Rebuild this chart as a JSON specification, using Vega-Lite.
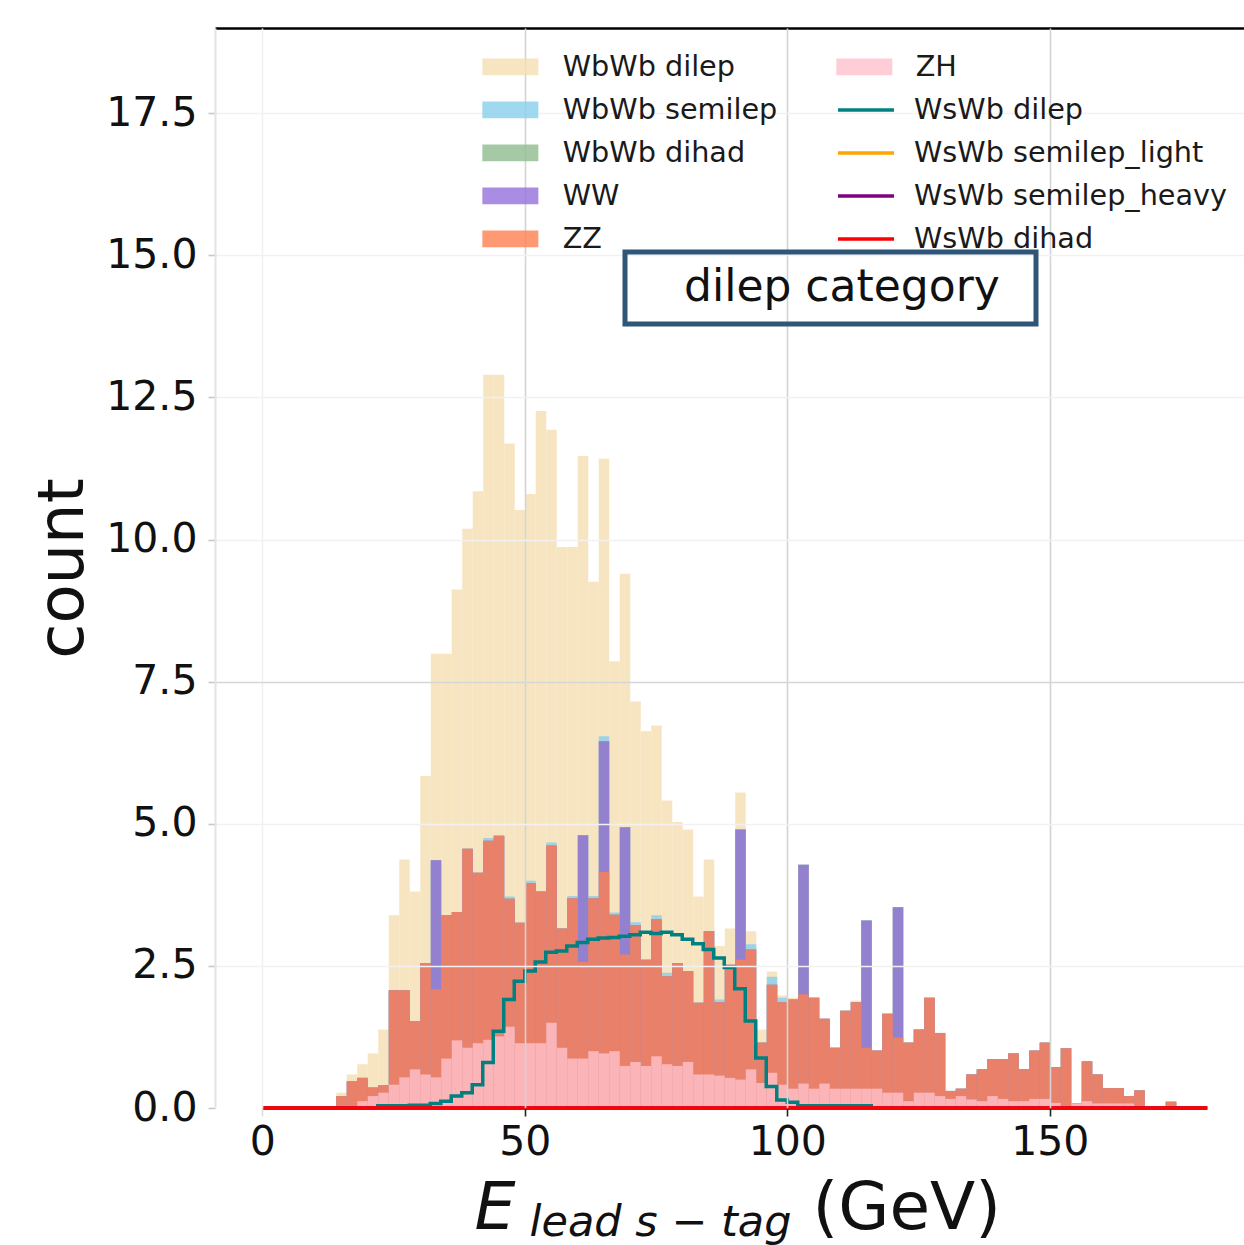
{
  "$schema": "https://vega.github.io/schema/vega-lite/v6.json",
  "width": 1029,
  "height": 1080,
  "autosize": {"type": "none"},
  "padding": {"left": 215, "top": 28, "right": 0, "bottom": 137},
  "background": "white",
  "config": {
    "view": {"stroke": null},
    "font": "DejaVu Sans",
    "axis": {"labelFont": "DejaVu Sans", "titleFont": "DejaVu Sans"},
    "legend": {"strokeWidth": 5, "labelFont": "DejaVu Sans", "titleFont": "DejaVu Sans"}
  },
  "datasets": {
    "hist": [
      {"x":0,"ZH":0,"ZZ":0,"WW":0,"WbWb dihad":0,"WbWb semilep":0,"WbWb dilep":0},
      {"x":2,"ZH":0,"ZZ":0,"WW":0,"WbWb dihad":0,"WbWb semilep":0,"WbWb dilep":0},
      {"x":4,"ZH":0,"ZZ":0,"WW":0,"WbWb dihad":0,"WbWb semilep":0,"WbWb dilep":0},
      {"x":6,"ZH":0,"ZZ":0,"WW":0,"WbWb dihad":0,"WbWb semilep":0,"WbWb dilep":0},
      {"x":8,"ZH":0,"ZZ":0,"WW":0,"WbWb dihad":0,"WbWb semilep":0,"WbWb dilep":0},
      {"x":10,"ZH":0,"ZZ":0,"WW":0,"WbWb dihad":0,"WbWb semilep":0,"WbWb dilep":0},
      {"x":12,"ZH":0,"ZZ":0,"WW":0,"WbWb dihad":0,"WbWb semilep":0,"WbWb dilep":0},
      {"x":14,"ZH":0,"ZZ":0.21,"WW":0,"WbWb dihad":0,"WbWb semilep":0,"WbWb dilep":0.06},
      {"x":16,"ZH":0,"ZZ":0.47,"WW":0,"WbWb dihad":0,"WbWb semilep":0,"WbWb dilep":0.12},
      {"x":18,"ZH":0.12,"ZZ":0.41,"WW":0,"WbWb dihad":0,"WbWb semilep":0,"WbWb dilep":0.24},
      {"x":20,"ZH":0.21,"ZZ":0.15,"WW":0,"WbWb dihad":0,"WbWb semilep":0,"WbWb dilep":0.6},
      {"x":22,"ZH":0.27,"ZZ":0.13,"WW":0,"WbWb dihad":0,"WbWb semilep":0,"WbWb dilep":0.98},
      {"x":24,"ZH":0.41,"ZZ":1.66,"WW":0,"WbWb dihad":0,"WbWb semilep":0,"WbWb dilep":1.32},
      {"x":26,"ZH":0.54,"ZZ":1.53,"WW":0,"WbWb dihad":0,"WbWb semilep":0,"WbWb dilep":2.3},
      {"x":28,"ZH":0.68,"ZZ":0.85,"WW":0,"WbWb dihad":0,"WbWb semilep":0,"WbWb dilep":2.28},
      {"x":30,"ZH":0.59,"ZZ":1.96,"WW":0,"WbWb dihad":0,"WbWb semilep":0,"WbWb dilep":3.29},
      {"x":32,"ZH":0.54,"ZZ":1.55,"WW":2.27,"WbWb dihad":0,"WbWb semilep":0,"WbWb dilep":3.63},
      {"x":34,"ZH":0.87,"ZZ":2.52,"WW":0,"WbWb dihad":0,"WbWb semilep":0,"WbWb dilep":4.6},
      {"x":36,"ZH":1.19,"ZZ":2.26,"WW":0,"WbWb dihad":0,"WbWb semilep":0,"WbWb dilep":5.67},
      {"x":38,"ZH":1.06,"ZZ":3.5,"WW":0,"WbWb dihad":0,"WbWb semilep":0,"WbWb dilep":5.63},
      {"x":40,"ZH":1.14,"ZZ":3.0,"WW":0,"WbWb dihad":0,"WbWb semilep":0,"WbWb dilep":6.71},
      {"x":42,"ZH":1.2,"ZZ":3.5,"WW":0,"WbWb dihad":0,"WbWb semilep":0.05,"WbWb dilep":8.15},
      {"x":44,"ZH":1.26,"ZZ":3.53,"WW":0,"WbWb dihad":0,"WbWb semilep":0,"WbWb dilep":8.11},
      {"x":46,"ZH":1.43,"ZZ":2.25,"WW":0,"WbWb dihad":0,"WbWb semilep":0.04,"WbWb dilep":7.97},
      {"x":48,"ZH":1.14,"ZZ":2.12,"WW":0,"WbWb dihad":0,"WbWb semilep":0,"WbWb dilep":7.26},
      {"x":50,"ZH":1.14,"ZZ":2.82,"WW":0,"WbWb dihad":0,"WbWb semilep":0.04,"WbWb dilep":6.8},
      {"x":52,"ZH":1.14,"ZZ":2.67,"WW":0,"WbWb dihad":0,"WbWb semilep":0,"WbWb dilep":8.45},
      {"x":54,"ZH":1.5,"ZZ":3.12,"WW":0,"WbWb dihad":0,"WbWb semilep":0.05,"WbWb dilep":7.26},
      {"x":56,"ZH":1.06,"ZZ":2.1,"WW":0,"WbWb dihad":0,"WbWb semilep":0,"WbWb dilep":6.71},
      {"x":58,"ZH":0.87,"ZZ":2.82,"WW":0,"WbWb dihad":0,"WbWb semilep":0.04,"WbWb dilep":6.14},
      {"x":60,"ZH":0.87,"ZZ":1.7,"WW":2.23,"WbWb dihad":0,"WbWb semilep":0,"WbWb dilep":6.67},
      {"x":62,"ZH":1.0,"ZZ":2.69,"WW":0,"WbWb dihad":0,"WbWb semilep":0.04,"WbWb dilep":5.53},
      {"x":64,"ZH":0.96,"ZZ":3.19,"WW":2.3,"WbWb dihad":0,"WbWb semilep":0.09,"WbWb dilep":4.88},
      {"x":66,"ZH":1.0,"ZZ":2.4,"WW":0,"WbWb dihad":0,"WbWb semilep":0.04,"WbWb dilep":4.42},
      {"x":68,"ZH":0.74,"ZZ":1.96,"WW":2.24,"WbWb dihad":0,"WbWb semilep":0,"WbWb dilep":4.46},
      {"x":70,"ZH":0.81,"ZZ":2.41,"WW":0,"WbWb dihad":0,"WbWb semilep":0.05,"WbWb dilep":3.88},
      {"x":72,"ZH":0.74,"ZZ":1.87,"WW":0,"WbWb dihad":0,"WbWb semilep":0,"WbWb dilep":4.02},
      {"x":74,"ZH":0.91,"ZZ":2.41,"WW":0,"WbWb dihad":0,"WbWb semilep":0.07,"WbWb dilep":3.34},
      {"x":76,"ZH":0.77,"ZZ":1.55,"WW":0,"WbWb dihad":0,"WbWb semilep":0.06,"WbWb dilep":3.03},
      {"x":78,"ZH":0.74,"ZZ":1.81,"WW":0,"WbWb dihad":0,"WbWb semilep":0,"WbWb dilep":2.48},
      {"x":80,"ZH":0.81,"ZZ":1.6,"WW":0,"WbWb dihad":0,"WbWb semilep":0,"WbWb dilep":2.49},
      {"x":82,"ZH":0.59,"ZZ":1.26,"WW":0,"WbWb dihad":0,"WbWb semilep":0,"WbWb dilep":1.87},
      {"x":84,"ZH":0.59,"ZZ":2.52,"WW":0,"WbWb dihad":0,"WbWb semilep":0,"WbWb dilep":1.26},
      {"x":86,"ZH":0.57,"ZZ":1.29,"WW":0,"WbWb dihad":0,"WbWb semilep":0.05,"WbWb dilep":0.94},
      {"x":88,"ZH":0.53,"ZZ":1.99,"WW":0,"WbWb dihad":0,"WbWb semilep":0,"WbWb dilep":0.64},
      {"x":90,"ZH":0.5,"ZZ":2.11,"WW":2.29,"WbWb dihad":0,"WbWb semilep":0,"WbWb dilep":0.65},
      {"x":92,"ZH":0.68,"ZZ":2.11,"WW":0,"WbWb dihad":0,"WbWb semilep":0.09,"WbWb dilep":0.23},
      {"x":94,"ZH":0.44,"ZZ":0.71,"WW":0,"WbWb dihad":0,"WbWb semilep":0,"WbWb dilep":0.23},
      {"x":96,"ZH":0.62,"ZZ":1.55,"WW":0,"WbWb dihad":0,"WbWb semilep":0.14,"WbWb dilep":0.09},
      {"x":98,"ZH":0.41,"ZZ":1.45,"WW":0,"WbWb dihad":0,"WbWb semilep":0.08,"WbWb dilep":0.04},
      {"x":100,"ZH":0.34,"ZZ":1.57,"WW":0,"WbWb dihad":0,"WbWb semilep":0,"WbWb dilep":0.03},
      {"x":102,"ZH":0.43,"ZZ":1.57,"WW":2.28,"WbWb dihad":0,"WbWb semilep":0,"WbWb dilep":0},
      {"x":104,"ZH":0.34,"ZZ":1.6,"WW":0,"WbWb dihad":0,"WbWb semilep":0,"WbWb dilep":0},
      {"x":106,"ZH":0.43,"ZZ":1.14,"WW":0,"WbWb dihad":0,"WbWb semilep":0,"WbWb dilep":0},
      {"x":108,"ZH":0.34,"ZZ":0.72,"WW":0,"WbWb dihad":0,"WbWb semilep":0,"WbWb dilep":0},
      {"x":110,"ZH":0.34,"ZZ":1.37,"WW":0,"WbWb dihad":0,"WbWb semilep":0,"WbWb dilep":0},
      {"x":112,"ZH":0.34,"ZZ":1.52,"WW":0,"WbWb dihad":0,"WbWb semilep":0,"WbWb dilep":0.03},
      {"x":114,"ZH":0.34,"ZZ":0.72,"WW":2.24,"WbWb dihad":0,"WbWb semilep":0,"WbWb dilep":0},
      {"x":116,"ZH":0.34,"ZZ":0.67,"WW":0,"WbWb dihad":0,"WbWb semilep":0,"WbWb dilep":0},
      {"x":118,"ZH":0.27,"ZZ":1.39,"WW":0,"WbWb dihad":0,"WbWb semilep":0,"WbWb dilep":0},
      {"x":120,"ZH":0.27,"ZZ":0.97,"WW":2.29,"WbWb dihad":0,"WbWb semilep":0,"WbWb dilep":0},
      {"x":122,"ZH":0.12,"ZZ":1.03,"WW":0,"WbWb dihad":0,"WbWb semilep":0,"WbWb dilep":0},
      {"x":124,"ZH":0.27,"ZZ":1.11,"WW":0,"WbWb dihad":0,"WbWb semilep":0,"WbWb dilep":0},
      {"x":126,"ZH":0.27,"ZZ":1.67,"WW":0,"WbWb dihad":0,"WbWb semilep":0,"WbWb dilep":0},
      {"x":128,"ZH":0.21,"ZZ":1.11,"WW":0,"WbWb dihad":0,"WbWb semilep":0,"WbWb dilep":0},
      {"x":130,"ZH":0.16,"ZZ":0.14,"WW":0,"WbWb dihad":0,"WbWb semilep":0,"WbWb dilep":0},
      {"x":132,"ZH":0.21,"ZZ":0.13,"WW":0,"WbWb dihad":0,"WbWb semilep":0,"WbWb dilep":0},
      {"x":134,"ZH":0.15,"ZZ":0.44,"WW":0,"WbWb dihad":0,"WbWb semilep":0,"WbWb dilep":0},
      {"x":136,"ZH":0.12,"ZZ":0.56,"WW":0,"WbWb dihad":0,"WbWb semilep":0,"WbWb dilep":0},
      {"x":138,"ZH":0.21,"ZZ":0.65,"WW":0,"WbWb dihad":0,"WbWb semilep":0,"WbWb dilep":0},
      {"x":140,"ZH":0.16,"ZZ":0.7,"WW":0,"WbWb dihad":0,"WbWb semilep":0,"WbWb dilep":0},
      {"x":142,"ZH":0.12,"ZZ":0.84,"WW":0,"WbWb dihad":0,"WbWb semilep":0,"WbWb dilep":0},
      {"x":144,"ZH":0.12,"ZZ":0.56,"WW":0,"WbWb dihad":0,"WbWb semilep":0,"WbWb dilep":0},
      {"x":146,"ZH":0.16,"ZZ":0.85,"WW":0,"WbWb dihad":0,"WbWb semilep":0,"WbWb dilep":0},
      {"x":148,"ZH":0.16,"ZZ":0.99,"WW":0,"WbWb dihad":0,"WbWb semilep":0,"WbWb dilep":0},
      {"x":150,"ZH":0.09,"ZZ":0.63,"WW":0,"WbWb dihad":0,"WbWb semilep":0,"WbWb dilep":0},
      {"x":152,"ZH":0,"ZZ":1.05,"WW":0,"WbWb dihad":0,"WbWb semilep":0,"WbWb dilep":0},
      {"x":154,"ZH":0.08,"ZZ":0,"WW":0,"WbWb dihad":0,"WbWb semilep":0,"WbWb dilep":0},
      {"x":156,"ZH":0.12,"ZZ":0.7,"WW":0,"WbWb dihad":0,"WbWb semilep":0,"WbWb dilep":0},
      {"x":158,"ZH":0.08,"ZZ":0.51,"WW":0,"WbWb dihad":0,"WbWb semilep":0,"WbWb dilep":0},
      {"x":160,"ZH":0.08,"ZZ":0.27,"WW":0,"WbWb dihad":0,"WbWb semilep":0,"WbWb dilep":0},
      {"x":162,"ZH":0.08,"ZZ":0.27,"WW":0,"WbWb dihad":0,"WbWb semilep":0,"WbWb dilep":0},
      {"x":164,"ZH":0.08,"ZZ":0.13,"WW":0,"WbWb dihad":0,"WbWb semilep":0,"WbWb dilep":0},
      {"x":166,"ZH":0,"ZZ":0.31,"WW":0,"WbWb dihad":0,"WbWb semilep":0,"WbWb dilep":0},
      {"x":168,"ZH":0,"ZZ":0,"WW":0,"WbWb dihad":0,"WbWb semilep":0,"WbWb dilep":0},
      {"x":170,"ZH":0,"ZZ":0,"WW":0,"WbWb dihad":0,"WbWb semilep":0,"WbWb dilep":0},
      {"x":172,"ZH":0,"ZZ":0.11,"WW":0,"WbWb dihad":0,"WbWb semilep":0,"WbWb dilep":0},
      {"x":174,"ZH":0,"ZZ":0,"WW":0,"WbWb dihad":0,"WbWb semilep":0,"WbWb dilep":0},
      {"x":176,"ZH":0,"ZZ":0,"WW":0,"WbWb dihad":0,"WbWb semilep":0,"WbWb dilep":0},
      {"x":178,"ZH":0,"ZZ":0,"WW":0,"WbWb dihad":0,"WbWb semilep":0,"WbWb dilep":0}
    ],
    "steps": [
      {"x":0,"WsWb dilep":0,"WsWb semilep_light":0,"WsWb semilep_heavy":0,"WsWb dihad":0},
      {"x":2,"WsWb dilep":0,"WsWb semilep_light":0,"WsWb semilep_heavy":0,"WsWb dihad":0},
      {"x":4,"WsWb dilep":0,"WsWb semilep_light":0,"WsWb semilep_heavy":0,"WsWb dihad":0},
      {"x":6,"WsWb dilep":0,"WsWb semilep_light":0,"WsWb semilep_heavy":0,"WsWb dihad":0},
      {"x":8,"WsWb dilep":0,"WsWb semilep_light":0,"WsWb semilep_heavy":0,"WsWb dihad":0},
      {"x":10,"WsWb dilep":0,"WsWb semilep_light":0,"WsWb semilep_heavy":0,"WsWb dihad":0},
      {"x":12,"WsWb dilep":0,"WsWb semilep_light":0,"WsWb semilep_heavy":0,"WsWb dihad":0},
      {"x":14,"WsWb dilep":0,"WsWb semilep_light":0,"WsWb semilep_heavy":0,"WsWb dihad":0},
      {"x":16,"WsWb dilep":0,"WsWb semilep_light":0,"WsWb semilep_heavy":0,"WsWb dihad":0},
      {"x":18,"WsWb dilep":0,"WsWb semilep_light":0,"WsWb semilep_heavy":0,"WsWb dihad":0},
      {"x":20,"WsWb dilep":0,"WsWb semilep_light":0,"WsWb semilep_heavy":0,"WsWb dihad":0},
      {"x":22,"WsWb dilep":0.04,"WsWb semilep_light":0,"WsWb semilep_heavy":0,"WsWb dihad":0},
      {"x":24,"WsWb dilep":0.04,"WsWb semilep_light":0,"WsWb semilep_heavy":0,"WsWb dihad":0},
      {"x":26,"WsWb dilep":0.04,"WsWb semilep_light":0,"WsWb semilep_heavy":0,"WsWb dihad":0},
      {"x":28,"WsWb dilep":0.05,"WsWb semilep_light":0,"WsWb semilep_heavy":0,"WsWb dihad":0},
      {"x":30,"WsWb dilep":0.05,"WsWb semilep_light":0,"WsWb semilep_heavy":0,"WsWb dihad":0},
      {"x":32,"WsWb dilep":0.08,"WsWb semilep_light":0,"WsWb semilep_heavy":0,"WsWb dihad":0},
      {"x":34,"WsWb dilep":0.12,"WsWb semilep_light":0,"WsWb semilep_heavy":0,"WsWb dihad":0},
      {"x":36,"WsWb dilep":0.21,"WsWb semilep_light":0,"WsWb semilep_heavy":0,"WsWb dihad":0},
      {"x":38,"WsWb dilep":0.27,"WsWb semilep_light":0,"WsWb semilep_heavy":0,"WsWb dihad":0},
      {"x":40,"WsWb dilep":0.41,"WsWb semilep_light":0,"WsWb semilep_heavy":0,"WsWb dihad":0},
      {"x":42,"WsWb dilep":0.8,"WsWb semilep_light":0,"WsWb semilep_heavy":0,"WsWb dihad":0},
      {"x":44,"WsWb dilep":1.35,"WsWb semilep_light":0,"WsWb semilep_heavy":0,"WsWb dihad":0},
      {"x":46,"WsWb dilep":1.91,"WsWb semilep_light":0,"WsWb semilep_heavy":0,"WsWb dihad":0},
      {"x":48,"WsWb dilep":2.23,"WsWb semilep_light":0,"WsWb semilep_heavy":0,"WsWb dihad":0},
      {"x":50,"WsWb dilep":2.41,"WsWb semilep_light":0,"WsWb semilep_heavy":0,"WsWb dihad":0},
      {"x":52,"WsWb dilep":2.57,"WsWb semilep_light":0,"WsWb semilep_heavy":0,"WsWb dihad":0},
      {"x":54,"WsWb dilep":2.74,"WsWb semilep_light":0,"WsWb semilep_heavy":0,"WsWb dihad":0},
      {"x":56,"WsWb dilep":2.76,"WsWb semilep_light":0,"WsWb semilep_heavy":0,"WsWb dihad":0},
      {"x":58,"WsWb dilep":2.85,"WsWb semilep_light":0,"WsWb semilep_heavy":0,"WsWb dihad":0},
      {"x":60,"WsWb dilep":2.91,"WsWb semilep_light":0,"WsWb semilep_heavy":0,"WsWb dihad":0},
      {"x":62,"WsWb dilep":2.97,"WsWb semilep_light":0,"WsWb semilep_heavy":0,"WsWb dihad":0},
      {"x":64,"WsWb dilep":2.99,"WsWb semilep_light":0,"WsWb semilep_heavy":0,"WsWb dihad":0},
      {"x":66,"WsWb dilep":3.0,"WsWb semilep_light":0,"WsWb semilep_heavy":0,"WsWb dihad":0},
      {"x":68,"WsWb dilep":3.02,"WsWb semilep_light":0,"WsWb semilep_heavy":0,"WsWb dihad":0},
      {"x":70,"WsWb dilep":3.05,"WsWb semilep_light":0,"WsWb semilep_heavy":0,"WsWb dihad":0},
      {"x":72,"WsWb dilep":3.09,"WsWb semilep_light":0,"WsWb semilep_heavy":0,"WsWb dihad":0},
      {"x":74,"WsWb dilep":3.07,"WsWb semilep_light":0,"WsWb semilep_heavy":0,"WsWb dihad":0},
      {"x":76,"WsWb dilep":3.09,"WsWb semilep_light":0,"WsWb semilep_heavy":0,"WsWb dihad":0},
      {"x":78,"WsWb dilep":3.05,"WsWb semilep_light":0,"WsWb semilep_heavy":0,"WsWb dihad":0},
      {"x":80,"WsWb dilep":2.97,"WsWb semilep_light":0,"WsWb semilep_heavy":0,"WsWb dihad":0},
      {"x":82,"WsWb dilep":2.89,"WsWb semilep_light":0,"WsWb semilep_heavy":0,"WsWb dihad":0},
      {"x":84,"WsWb dilep":2.79,"WsWb semilep_light":0,"WsWb semilep_heavy":0,"WsWb dihad":0},
      {"x":86,"WsWb dilep":2.64,"WsWb semilep_light":0,"WsWb semilep_heavy":0,"WsWb dihad":0},
      {"x":88,"WsWb dilep":2.47,"WsWb semilep_light":0,"WsWb semilep_heavy":0,"WsWb dihad":0},
      {"x":90,"WsWb dilep":2.1,"WsWb semilep_light":0,"WsWb semilep_heavy":0,"WsWb dihad":0},
      {"x":92,"WsWb dilep":1.53,"WsWb semilep_light":0,"WsWb semilep_heavy":0,"WsWb dihad":0},
      {"x":94,"WsWb dilep":0.88,"WsWb semilep_light":0,"WsWb semilep_heavy":0,"WsWb dihad":0},
      {"x":96,"WsWb dilep":0.38,"WsWb semilep_light":0,"WsWb semilep_heavy":0,"WsWb dihad":0},
      {"x":98,"WsWb dilep":0.14,"WsWb semilep_light":0,"WsWb semilep_heavy":0,"WsWb dihad":0},
      {"x":100,"WsWb dilep":0.1,"WsWb semilep_light":0,"WsWb semilep_heavy":0,"WsWb dihad":0},
      {"x":102,"WsWb dilep":0.04,"WsWb semilep_light":0,"WsWb semilep_heavy":0,"WsWb dihad":0},
      {"x":104,"WsWb dilep":0.04,"WsWb semilep_light":0,"WsWb semilep_heavy":0,"WsWb dihad":0},
      {"x":106,"WsWb dilep":0.04,"WsWb semilep_light":0,"WsWb semilep_heavy":0,"WsWb dihad":0},
      {"x":108,"WsWb dilep":0.04,"WsWb semilep_light":0,"WsWb semilep_heavy":0,"WsWb dihad":0},
      {"x":110,"WsWb dilep":0.04,"WsWb semilep_light":0,"WsWb semilep_heavy":0,"WsWb dihad":0},
      {"x":112,"WsWb dilep":0.04,"WsWb semilep_light":0,"WsWb semilep_heavy":0,"WsWb dihad":0},
      {"x":114,"WsWb dilep":0.04,"WsWb semilep_light":0,"WsWb semilep_heavy":0,"WsWb dihad":0},
      {"x":116,"WsWb dilep":0,"WsWb semilep_light":0,"WsWb semilep_heavy":0,"WsWb dihad":0},
      {"x":118,"WsWb dilep":0,"WsWb semilep_light":0,"WsWb semilep_heavy":0,"WsWb dihad":0},
      {"x":120,"WsWb dilep":0,"WsWb semilep_light":0,"WsWb semilep_heavy":0,"WsWb dihad":0},
      {"x":122,"WsWb dilep":0,"WsWb semilep_light":0,"WsWb semilep_heavy":0,"WsWb dihad":0},
      {"x":124,"WsWb dilep":0,"WsWb semilep_light":0,"WsWb semilep_heavy":0,"WsWb dihad":0},
      {"x":126,"WsWb dilep":0,"WsWb semilep_light":0,"WsWb semilep_heavy":0,"WsWb dihad":0},
      {"x":128,"WsWb dilep":0,"WsWb semilep_light":0,"WsWb semilep_heavy":0,"WsWb dihad":0},
      {"x":130,"WsWb dilep":0,"WsWb semilep_light":0,"WsWb semilep_heavy":0,"WsWb dihad":0},
      {"x":132,"WsWb dilep":0,"WsWb semilep_light":0,"WsWb semilep_heavy":0,"WsWb dihad":0},
      {"x":134,"WsWb dilep":0,"WsWb semilep_light":0,"WsWb semilep_heavy":0,"WsWb dihad":0},
      {"x":136,"WsWb dilep":0,"WsWb semilep_light":0,"WsWb semilep_heavy":0,"WsWb dihad":0},
      {"x":138,"WsWb dilep":0,"WsWb semilep_light":0,"WsWb semilep_heavy":0,"WsWb dihad":0},
      {"x":140,"WsWb dilep":0,"WsWb semilep_light":0,"WsWb semilep_heavy":0,"WsWb dihad":0},
      {"x":142,"WsWb dilep":0,"WsWb semilep_light":0,"WsWb semilep_heavy":0,"WsWb dihad":0},
      {"x":144,"WsWb dilep":0,"WsWb semilep_light":0,"WsWb semilep_heavy":0,"WsWb dihad":0},
      {"x":146,"WsWb dilep":0,"WsWb semilep_light":0,"WsWb semilep_heavy":0,"WsWb dihad":0},
      {"x":148,"WsWb dilep":0,"WsWb semilep_light":0,"WsWb semilep_heavy":0,"WsWb dihad":0},
      {"x":150,"WsWb dilep":0,"WsWb semilep_light":0,"WsWb semilep_heavy":0,"WsWb dihad":0},
      {"x":152,"WsWb dilep":0,"WsWb semilep_light":0,"WsWb semilep_heavy":0,"WsWb dihad":0},
      {"x":154,"WsWb dilep":0,"WsWb semilep_light":0,"WsWb semilep_heavy":0,"WsWb dihad":0},
      {"x":156,"WsWb dilep":0,"WsWb semilep_light":0,"WsWb semilep_heavy":0,"WsWb dihad":0},
      {"x":158,"WsWb dilep":0,"WsWb semilep_light":0,"WsWb semilep_heavy":0,"WsWb dihad":0},
      {"x":160,"WsWb dilep":0,"WsWb semilep_light":0,"WsWb semilep_heavy":0,"WsWb dihad":0},
      {"x":162,"WsWb dilep":0,"WsWb semilep_light":0,"WsWb semilep_heavy":0,"WsWb dihad":0},
      {"x":164,"WsWb dilep":0,"WsWb semilep_light":0,"WsWb semilep_heavy":0,"WsWb dihad":0},
      {"x":166,"WsWb dilep":0,"WsWb semilep_light":0,"WsWb semilep_heavy":0,"WsWb dihad":0},
      {"x":168,"WsWb dilep":0,"WsWb semilep_light":0,"WsWb semilep_heavy":0,"WsWb dihad":0},
      {"x":170,"WsWb dilep":0,"WsWb semilep_light":0,"WsWb semilep_heavy":0,"WsWb dihad":0},
      {"x":172,"WsWb dilep":0,"WsWb semilep_light":0,"WsWb semilep_heavy":0,"WsWb dihad":0},
      {"x":174,"WsWb dilep":0,"WsWb semilep_light":0,"WsWb semilep_heavy":0,"WsWb dihad":0},
      {"x":176,"WsWb dilep":0,"WsWb semilep_light":0,"WsWb semilep_heavy":0,"WsWb dihad":0},
      {"x":178,"WsWb dilep":0,"WsWb semilep_light":0,"WsWb semilep_heavy":0,"WsWb dihad":0},
      {"x":180,"WsWb dilep":0,"WsWb semilep_light":0,"WsWb semilep_heavy":0,"WsWb dihad":0}
    ]
  },
  "layer": [
    {
      "data": {"name": "hist"},
      "transform": [
        {"fold": ["ZH", "ZZ", "WW", "WbWb dihad", "WbWb semilep", "WbWb dilep"], "as": ["series", "count"]},
        {"window": [{"op": "row_number", "as": "layer_rank"}], "groupby": ["x"]},
        {"stack": "count", "groupby": ["x"], "sort": [{"field": "layer_rank", "order": "ascending"}], "as": ["base", "top"]},
        {"filter": "datum.series != 'ZH'"}
      ],
      "mark": {"type": "bar", "binSpacing": 0, "opacity": 0.8},
      "encoding": {
        "x": {
          "field": "x", "type": "quantitative", "bin": {"binned": true, "step": 2},
          "scale": {"domain": [-9, 187], "nice": false, "zero": false},
          "axis": {
            "orient": "bottom", "values": [0, 50, 100, 150], "format": "d",
            "labelFontSize": 41, "labelColor": "#111111", "labelPadding": 6, "labelFlush": false, "labelOverlap": false,
            "tickSize": 8, "tickWidth": 1.6,
            "tickColor": {"condition": {"test": "datum.value == 0", "value": "#dddddd"}, "value": "#222222"},
            "domain": false,
            "grid": true, "gridWidth": 1.6,
            "gridColor": {"condition": {"test": "datum.value == 0", "value": "#f0f0f0"}, "value": "#d4d4d4"},
            "zindex": 1,
            "title": "E", "titleFontSize": 65, "titleFontStyle": "italic", "titleFontWeight": "normal", "titleColor": "#111111",
            "titleAngle": 0, "titleAlign": "left", "titleBaseline": "alphabetic", "titleX": 259, "titleY": 120
          }
        },
        "y": {
          "field": "top", "type": "quantitative", "stack": null, "title": "count",
          "scale": {"domain": [0, 19], "nice": false},
          "axis": {
            "values": [0, 2.5, 5, 7.5, 10, 12.5, 15, 17.5], "format": ".1f",
            "labelFontSize": 41, "labelColor": "#111111", "labelPadding": 11, "labelOverlap": false,
            "tickSize": 7, "tickWidth": 1.6, "tickColor": "#c8c8c8",
            "domainColor": "#e4e4e4", "domainWidth": 2,
            "grid": true, "gridWidth": 1.6,
            "gridColor": {"condition": {"test": "datum.value == 7.5", "value": "#d6d6d6"}, "value": "#f1f1f1"},
            "gridOpacity": {"condition": {"test": "datum.value == 0", "value": 0}, "value": 1},
            "zindex": 1,
            "titleFontSize": 64, "titleFontWeight": "normal", "titleColor": "#111111",
            "titleAngle": 270, "titleAlign": "center", "titleBaseline": "alphabetic", "titleX": -133, "titleY": 540
          }
        },
        "fill": {
          "field": "series", "type": "nominal",
          "scale": {
            "domain": ["WbWb dilep", "WbWb semilep", "WbWb dihad", "WW", "ZZ"],
            "range": ["#f5deb3", "#87ceeb", "#8fbc8f", "#9370db", "#ff7f50"]
          },
          "legend": {
            "orient": "none", "legendX": 281, "legendY": 24.5, "title": null, "padding": 0, "zindex": 2,
            "symbolType": "M-2,-0.6H2V0.6H-2Z", "symbolSize": 784, "symbolStrokeWidth": 0,
            "labelFontSize": 28.7, "labelColor": "#1a1a1a", "labelOffset": 38, "labelLimit": 0, "rowPadding": 13
          }
        },
        "order": {"field": "layer_rank", "sort": "descending"}
      }
    },
    {
      "data": {"name": "hist"},
      "transform": [
        {"fold": ["ZH"], "as": ["series", "count"]}
      ],
      "mark": {"type": "bar", "binSpacing": 0, "opacity": 0.8},
      "encoding": {
        "x": {
          "field": "x", "type": "quantitative", "bin": {"binned": true, "step": 2},
          "scale": {"domain": [-9, 187], "nice": false, "zero": false},
          "axis": {
            "orient": "bottom", "domain": false, "ticks": false, "labels": false, "grid": false,
            "title": "lead s \u2212 tag", "titleFontSize": 43, "titleFontStyle": "italic", "titleFontWeight": "normal", "titleColor": "#111111",
            "titleAngle": 0, "titleAlign": "left", "titleBaseline": "alphabetic", "titleX": 314, "titleY": 127
          }
        },
        "y": {"field": "count", "type": "quantitative", "stack": null, "title": "count", "scale": {"domain": [0, 19], "nice": false}},
        "color": {
          "field": "series", "type": "nominal",
          "scale": {"domain": ["ZH"], "range": ["#ffc0cb"]},
          "legend": {
            "orient": "none", "legendX": 635, "legendY": 24.5, "title": null, "padding": 0, "zindex": 2,
            "symbolType": "M-2,-0.6H2V0.6H-2Z", "symbolSize": 784, "symbolStrokeWidth": 0,
            "labelFontSize": 28.7, "labelColor": "#1a1a1a", "labelOffset": 37, "labelLimit": 0
          }
        }
      }
    },
    {
      "data": {"name": "steps"},
      "transform": [
        {"fold": ["WsWb dilep", "WsWb semilep_light", "WsWb semilep_heavy", "WsWb dihad"], "as": ["series", "count"]}
      ],
      "mark": {"type": "line", "interpolate": "step-after", "strokeWidth": 3.5},
      "encoding": {
        "x": {
          "field": "x", "type": "quantitative",
          "scale": {"domain": [-9, 187], "nice": false, "zero": false},
          "axis": {
            "orient": "bottom", "domain": false, "ticks": false, "labels": false, "grid": false,
            "title": "(GeV)", "titleFontSize": 66, "titleFontWeight": "normal", "titleColor": "#111111",
            "titleAngle": 0, "titleAlign": "left", "titleBaseline": "alphabetic", "titleX": 597, "titleY": 120
          }
        },
        "y": {"field": "count", "type": "quantitative", "title": "count", "scale": {"domain": [0, 19], "nice": false}},
        "stroke": {
          "field": "series", "type": "nominal",
          "scale": {
            "domain": ["WsWb dilep", "WsWb semilep_light", "WsWb semilep_heavy", "WsWb dihad"],
            "range": ["#008080", "#ffa500", "#800080", "#ff0000"]
          },
          "legend": {
            "orient": "none", "legendX": 635, "legendY": 66, "title": null, "padding": 0, "zindex": 2,
            "symbolType": "M-2,0H2", "symbolSize": 784, "symbolStrokeWidth": 3.5,
            "labelFontSize": 28.7, "labelColor": "#1a1a1a", "labelOffset": 32, "labelLimit": 0, "rowPadding": 12
          }
        }
      }
    },
    {
      "data": {"name": "hist"},
      "transform": [{"filter": "datum.x == 0"}],
      "mark": {"type": "point", "opacity": 0},
      "encoding": {
        "x": {
          "field": "x", "type": "quantitative",
          "scale": {"domain": [-9, 187], "nice": false, "zero": false},
          "axis": {
            "orient": "top", "domain": true, "domainColor": "#000000", "domainWidth": 2.5,
            "ticks": false, "labels": false, "grid": false, "title": null
          }
        },
        "shape": {
          "datum": "dilep category", "type": "nominal",
          "legend": {
            "orient": "none", "legendX": 410, "legendY": 224, "padding": 14, "zindex": 2,
            "strokeColor": "#2f5577",
            "title": ".", "titleOrient": "right", "titleFontSize": 10, "titlePadding": 18, "titleOpacity": 0,
            "symbolSize": 0, "symbolOpacity": 0, "symbolStrokeWidth": 0,
            "labelFontSize": 44, "labelColor": "#111111", "labelOffset": 1, "labelLimit": 0
          }
        }
      }
    }
  ],
  "resolve": {"axis": {"x": "independent"}}
}
